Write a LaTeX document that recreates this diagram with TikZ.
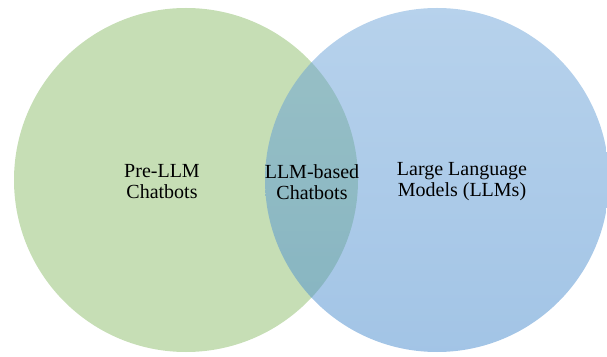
\documentclass[tikz,border=0pt]{standalone}
\usepackage{fontspec}
\setmainfont{Liberation Serif}
\definecolor{greenbase}{RGB}{112,173,71}
\definecolor{bluetop}{RGB}{111,165,217}
\definecolor{bluebot}{RGB}{70,138,205}
\tikzset{
  lbl/.style={align=center, font=\rmfamily\fontsize{20}{21}\selectfont, text=black, inner sep=0pt}
}
\begin{document}
\begin{tikzpicture}[x=1pt,y=1pt]
\useasboundingbox (0,0) rectangle (607,356);
\clip (0,0) rectangle (607,356);
\fill[greenbase, fill opacity=0.4] (186,176) circle (172);
\shade[top color=bluetop, bottom color=bluebot, opacity=0.5] (437,176) circle (172);
\node[lbl] (pre) at (162,174) {Pre-LLM\\Chatbots};
\node[lbl] (mid) at (312,174) {LLM-based\\Chatbots};
\node[lbl] (llm) at (462,174) {Large Language\\Models (LLMs)};
\end{tikzpicture}
\end{document}
